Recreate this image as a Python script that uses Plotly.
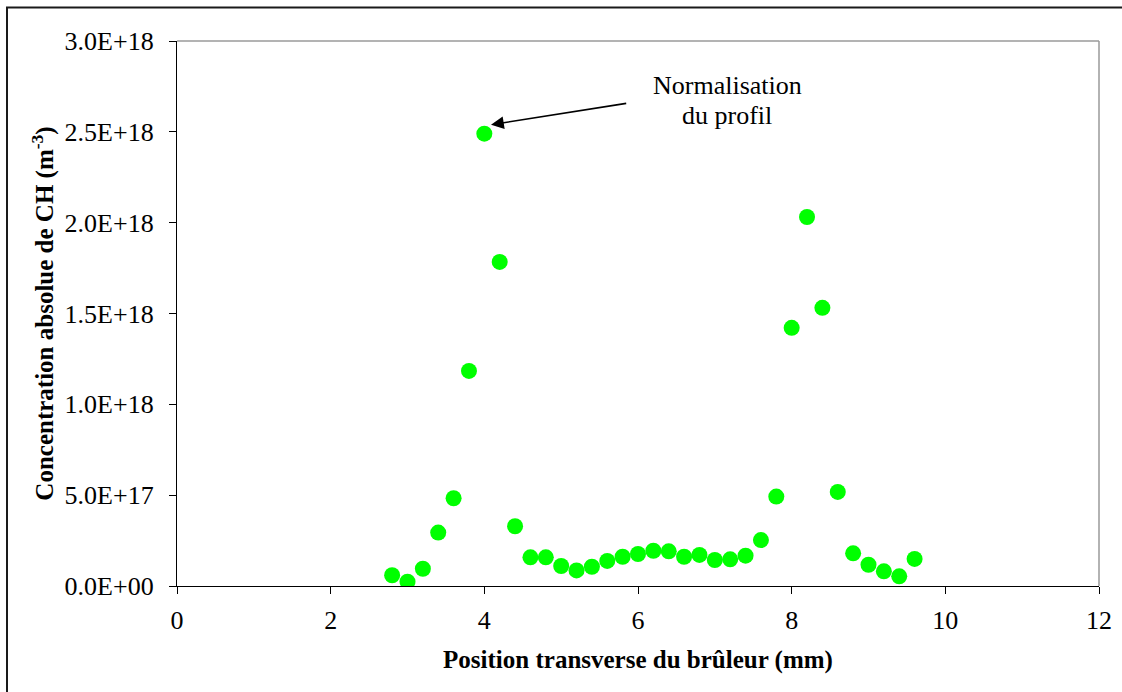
import plotly.graph_objects as go

# Transverse burner position (mm) and absolute CH concentration (m^-3)
position_mm = [2.8, 3.0, 3.2, 3.4, 3.6, 3.8, 4.0, 4.2, 4.4, 4.6, 4.8, 5.0, 5.2, 5.4,
               5.6, 5.8, 6.0, 6.2, 6.4, 6.6, 6.8, 7.0, 7.2, 7.4, 7.6, 7.8, 8.0, 8.2,
               8.4, 8.6, 8.8, 9.0, 9.2, 9.4, 9.6]
ch_e18 = [0.059, 0.024, 0.095, 0.294, 0.483, 1.184, 2.49, 1.784, 0.329, 0.158, 0.158,
          0.110, 0.086, 0.106, 0.138, 0.161, 0.176, 0.194, 0.191, 0.161, 0.171, 0.143,
          0.147, 0.167, 0.253, 0.492, 1.421, 2.031, 1.531, 0.518, 0.180, 0.117, 0.081,
          0.053, 0.149]
ch_conc = [v * 1e18 for v in ch_e18]

y_tickvals = [0, 5e17, 1.0e18, 1.5e18, 2.0e18, 2.5e18, 3.0e18]
y_ticktext = ["0.0E+00", "5.0E+17", "1.0E+18", "1.5E+18", "2.0E+18", "2.5E+18", "3.0E+18"]
x_tickvals = [0, 2, 4, 6, 8, 10, 12]
note_lines = ["Normalisation", "du profil"]

W, H = 1122, 692
ML, MR, MT, MB = 177, 23, 41, 106
PW, PH = W - ML - MR, H - MT - MB

def px_x(px):
    return (px - ML) / PW

def px_y(py):
    return (H - MB - py) / PH

FONT = "Liberation Serif, Times New Roman, serif"

fig = go.Figure()
fig.add_trace(go.Scatter(
    x=position_mm, y=ch_conc, mode="markers",
    marker=dict(color="#00FF00", size=16, line=dict(width=0)),
    showlegend=False, hoverinfo="skip",
))

axis_common = dict(
    showgrid=False, zeroline=False, showline=True, linecolor="black", linewidth=1.3,
    ticks="outside", ticklen=7, tickwidth=1.2, tickcolor="black",
    tickfont=dict(family=FONT, size=26, color="black"),
)

fig.update_xaxes(range=[0, 12], tickvals=x_tickvals, ticklabelstandoff=4,
                 title=dict(text="Position transverse du brûleur (mm)", standoff=16,
                            font=dict(family=FONT, size=25, color="black", weight="bold")),
                 **axis_common)
fig.update_yaxes(range=[0, 3.0e18], tickvals=y_tickvals, ticktext=y_ticktext,
                 ticklabelstandoff=10,
                 title=dict(text="Concentration absolue de CH (m<sup>-3</sup>)", standoff=3,
                            font=dict(family=FONT, size=25, color="black", weight="bold")),
                 **axis_common)

# Grey frame lines on top and right of the plotting area
fig.add_shape(type="line", xref="paper", yref="paper", x0=0, x1=1, y0=1, y1=1,
              line=dict(color="#9a9a9a", width=1.5))
fig.add_shape(type="line", xref="paper", yref="paper", x0=1, x1=1, y0=0, y1=1,
              line=dict(color="#9a9a9a", width=1.5))

# Outer chart border
fig.add_shape(type="rect", xref="paper", yref="paper",
              x0=px_x(7), x1=px_x(1140), y0=px_y(710), y1=px_y(7.5),
              line=dict(color="#1a1a1a", width=2), fillcolor="rgba(0,0,0,0)", layer="below")

# Note pointing to the normalisation peak
for line_text, cy in zip(note_lines, [85, 115]):
    fig.add_annotation(x=px_x(727), y=px_y(cy), xref="paper", yref="paper",
                       text=line_text, showarrow=False, xanchor="center", yanchor="middle",
                       font=dict(family=FONT, size=26, color="black"))
fig.add_annotation(x=4.087, y=2.539e18, ax=5.866, ay=2.658e18,
                   xref="x", yref="y", axref="x", ayref="y",
                   text="", showarrow=True, arrowhead=2, arrowsize=1.6,
                   arrowwidth=1.6, arrowcolor="black")

fig.update_layout(
    width=W, height=H,
    margin=dict(l=ML, r=MR, t=MT, b=MB, autoexpand=False),
    paper_bgcolor="white", plot_bgcolor="white",
    font=dict(family=FONT, color="black"),
)

fig.write_html("out.html")
